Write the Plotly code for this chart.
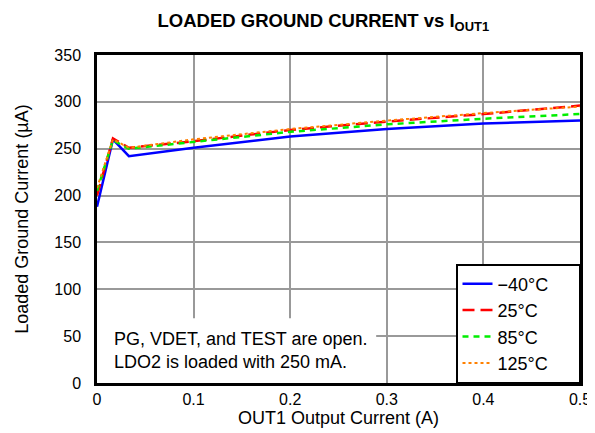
import plotly.graph_objects as go

# OUT1 output current (A)
iout = [0, 0.0165, 0.033, 0.1, 0.2, 0.3, 0.4, 0.5]

# loaded ground current (uA) per temperature
ig_m40 = [188, 260, 242, 251, 263, 271, 277, 280]
ig_25 = [200, 261, 251, 258, 270, 279, 287, 296]
ig_85 = [205, 259, 250, 257, 268, 276, 282, 287]
ig_125 = [208, 260, 251, 260, 271, 280, 288, 295]

x_ticks = [0, 0.1, 0.2, 0.3, 0.4, 0.5]
x_labels = ["0", "0.1", "0.2", "0.3", "0.4", "0.5"]
y_ticks = [0, 50, 100, 150, 200, 250, 300, 350]

font = "Arial, Liberation Sans, sans-serif"
pad = "\u00a0" * 5  # widen the legend box a bit

fig = go.Figure()
fig.add_trace(go.Scatter(x=iout, y=ig_m40, mode="lines", name="\u221240\u00b0C" + pad,
                         line=dict(color="#0000ff", width=2.5)))
fig.add_trace(go.Scatter(x=iout, y=ig_25, mode="lines", name="25\u00b0C" + pad,
                         line=dict(color="#ff0000", width=2.5, dash="12px,6px")))
fig.add_trace(go.Scatter(x=iout, y=ig_85, mode="lines", name="85\u00b0C" + pad,
                         line=dict(color="#00ee00", width=2.5, dash="6px,5px")))
fig.add_trace(go.Scatter(x=iout, y=ig_125, mode="lines", name="125\u00b0C" + pad,
                         line=dict(color="#ff8000", width=2, dash="dot")))

# white box behind the note text, hides the gridlines there
fig.add_shape(type="rect", xref="x", yref="y", x0=0, x1=0.289, y0=0, y1=69,
              fillcolor="white", line=dict(width=0), layer="between")

fig.add_annotation(text="PG, VDET, and TEST are open.<br>LDO2 is loaded with 250 mA.",
                   xref="x", yref="y", x=0.016, y=35, xanchor="left", yanchor="middle",
                   align="left", showarrow=False, font=dict(size=18, color="black"))
fig.add_annotation(text="G007", xref="paper", yref="paper", x=1.01, y=-0.11,
                   xanchor="left", yanchor="top", showarrow=False,
                   font=dict(size=9, color="black"))

fig.update_layout(
    width=595, height=433,
    margin=dict(l=89, r=20, t=47, b=58),
    paper_bgcolor="white", plot_bgcolor="white",
    font=dict(family=font, size=16, color="black"),
    title=dict(text="<b>LOADED GROUND CURRENT vs I<sub>OUT1</sub></b>",
               x=0.53, xanchor="center", y=0.97, yanchor="middle",
               font=dict(size=18.5)),
    legend=dict(x=1, y=0, xanchor="right", yanchor="bottom",
                bgcolor="white", bordercolor="black", borderwidth=1.5,
                font=dict(size=18), tracegroupgap=0),
    showlegend=True,
)
fig.update_xaxes(range=[0, 0.5], tickvals=x_ticks, ticktext=x_labels,
                 showgrid=True, gridcolor="#999999", gridwidth=1.5,
                 showline=True, linecolor="black", linewidth=2.5, mirror=True,
                 ticks="", zeroline=False, ticklabelstandoff=0,
                 title=dict(text="OUT1 Output Current (A)", standoff=2,
                            font=dict(size=18)))
fig.update_yaxes(range=[0, 350], tickvals=y_ticks,
                 showgrid=True, gridcolor="#999999", gridwidth=1.5,
                 showline=True, linecolor="black", linewidth=2.5, mirror=True,
                 ticks="", zeroline=False, ticklabelstandoff=10,
                 title=dict(text="Loaded Ground Current (\u00b5A)", standoff=22,
                            font=dict(size=18)))

fig.write_html("out.html")
